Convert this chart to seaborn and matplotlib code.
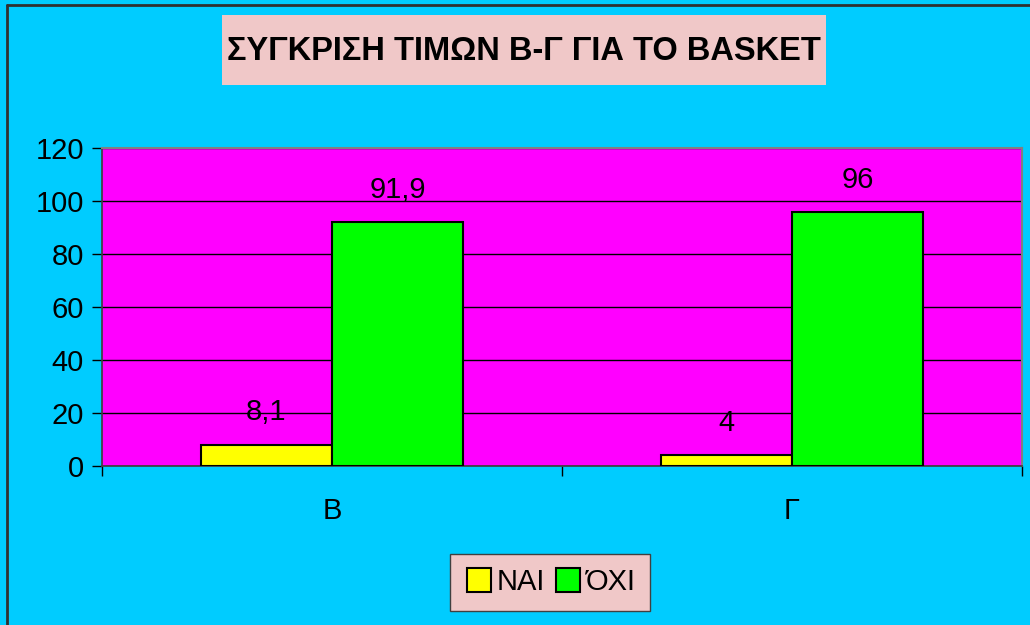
import pandas as pd
import seaborn as sns
import matplotlib.pyplot as plt
from matplotlib.lines import Line2D
from matplotlib.patches import Rectangle

# chart values
classes = ["Β", "Γ"]
answers = ["ΝΑΙ", "ΌΧΙ"]
nai = [8.1, 4]
oxi = [91.9, 96]
yticks = [0, 20, 40, 60, 80, 100, 120]

df = pd.DataFrame({
    "class": classes * 2,
    "answer": [answers[0]] * 2 + [answers[1]] * 2,
    "value": nai + oxi,
})

sns.set_theme(style="white")
plt.rcParams["font.family"] = ["Liberation Sans", "DejaVu Sans"]
plt.rcParams["text.color"] = "black"
plt.rcParams["xtick.color"] = "black"
plt.rcParams["ytick.color"] = "black"
plt.rcParams["axes.labelcolor"] = "black"

fig = plt.figure(figsize=(10.3, 6.25), dpi=100)
fig.patch.set_facecolor("#00CCFF")
ax = fig.add_axes([0.099, 0.2544, 0.893, 0.5088])
ax.set_facecolor("#FF00FF")

sns.barplot(
    data=df, x="class", y="value", hue="answer",
    palette=["#FFFF00", "#00FF00"], edgecolor="black", linewidth=1.5,
    width=0.57, saturation=1, ax=ax, legend=False, zorder=3,
)

ax.set_ylim(0, 120)
ax.set_yticks(yticks)
ax.set_xlim(-0.5, 1.5)
ax.yaxis.grid(True, color="black", linewidth=1, zorder=0)
ax.set_axisbelow(True)
ax.set_xlabel("")
ax.set_ylabel("")
ax.tick_params(axis="y", labelsize=21, length=7, width=1, direction="out", left=True, pad=6)
ax.tick_params(axis="x", labelsize=21, length=0, pad=22)
ax.set_xticks([-0.5, 0.5, 1.5], minor=True)
ax.tick_params(axis="x", which="minor", length=7, width=1, bottom=True)

for s in ["top", "right"]:
    ax.spines[s].set_color("#808080")
    ax.spines[s].set_linewidth(1.5)
ax.spines["left"].set_color("#404040")
ax.spines["bottom"].set_color("#404040")

# value labels, comma as decimal sign
for cont in ax.containers:
    labels = [f"{v:g}".replace(".", ",") for v in cont.datavalues]
    ax.bar_label(cont, labels=labels, padding=13, fontsize=21, color="black")

# title box
fig.add_artist(Rectangle((222 / 1030, 1 - 85 / 625), 604 / 1030, 70 / 625,
                         facecolor="#F0C8C8", edgecolor="none", transform=fig.transFigure))
fig.text(524 / 1030, 1 - 51 / 625, "ΣΥΓΚΡΙΣΗ ΤΙΜΩΝ Β-Γ ΓΙΑ ΤΟ BASKET",
         ha="center", va="center", fontsize=23.5, fontweight="bold", color="black")

# legend
handles = [
    Line2D([], [], marker="s", linestyle="", markersize=17, markerfacecolor=c,
           markeredgecolor="black", markeredgewidth=1.5)
    for c in ["#FFFF00", "#00FF00"]
]
leg = fig.legend(handles, answers, loc="center", bbox_to_anchor=(0.534, 0.068),
                 ncol=2, fontsize=21, frameon=True, fancybox=False,
                 handletextpad=0.1, columnspacing=0.3, borderpad=0.5,
                 handlelength=1.0)
leg.get_frame().set_facecolor("#F0C8C8")
leg.get_frame().set_edgecolor("#404040")
leg.get_frame().set_alpha(1)
for t in leg.get_texts():
    t.set_color("black")

# outer border lines at top and left
fig.add_artist(Line2D([0.0068, 0.0068], [0, 0.992], color="#303030", linewidth=2, transform=fig.transFigure))
fig.add_artist(Line2D([0.0068, 1], [0.992, 0.992], color="#303030", linewidth=2, transform=fig.transFigure))

fig.savefig("out.png", dpi=100, facecolor=fig.get_facecolor())
